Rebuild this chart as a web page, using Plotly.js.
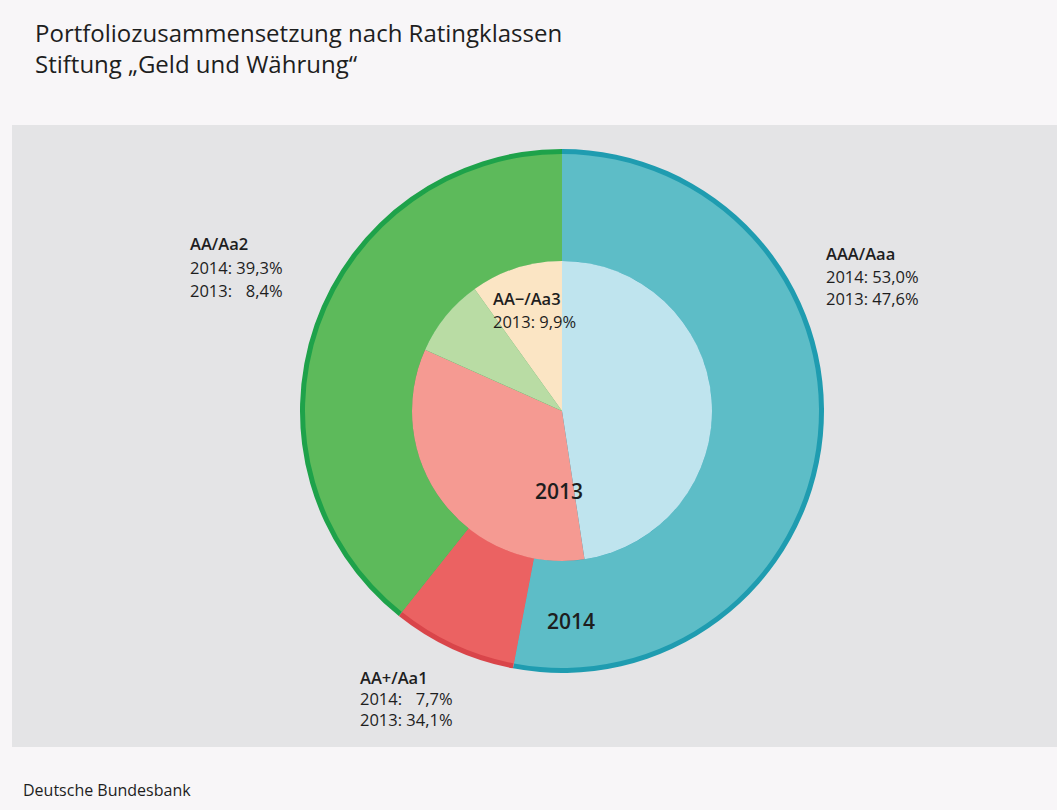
<!DOCTYPE html>
<html>
<head>
<meta charset="utf-8">
<script src="https://cdn.plot.ly/plotly-3.0.1.min.js"></script>
<style>html,body{margin:0;padding:0;background:#f8f6f8;}#chart{width:1057px;height:810px;}</style>
</head>
<body>
<div id="chart"></div>
<script>
// ---- data ----
const classes2014 = ["AAA/Aaa", "AA+/Aa1", "AA/Aa2"];
const values2014 = [53.0, 7.7, 39.3];
const classes2013 = ["AAA/Aaa", "AA+/Aa1", "AA/Aa2", "AA\u2212/Aa3"];
const values2013 = [47.6, 34.1, 8.4, 9.9];

const colors2014 = ["#5dbdc7", "#eb6262", "#5dba5b"];
const edge2014 = ["#1f9cb0", "#d9454a", "#1ea24a"];
const colors2013 = ["#bfe4ee", "#f59a92", "#b9dca4", "#fbe5c4"];

// ---- geometry (pixels) ----
const W = 1057, H = 810;
const cx = 562, cy = 411;
const rEdge = 262, rOuter = 257, rInner = 150;
function dom(r) {
  return {x: [(cx - r) / W, (cx + r) / W], y: [(H - cy - r) / H, (H - cy + r) / H]};
}

const common = {type: "pie", sort: false, direction: "clockwise", rotation: 0,
  textinfo: "none", hoverinfo: "label+percent", showlegend: false};

const traces = [
  Object.assign({}, common, {labels: classes2014, values: values2014, domain: dom(rEdge),
    marker: {colors: edge2014, line: {width: 0}}}),
  Object.assign({}, common, {labels: classes2014, values: values2014, domain: dom(rOuter),
    hole: rInner / rOuter, marker: {colors: colors2014, line: {width: 0}}}),
  Object.assign({}, common, {labels: classes2013, values: values2013, domain: dom(rInner),
    marker: {colors: colors2013, line: {width: 0}}})
];

const F = "Open Sans, Noto Sans, sans-serif";
const tc = "#1e1e1e";
function ann(x, y, text, size, weight, extra) {
  return Object.assign({xref: "paper", yref: "paper", x: x / W, y: 1 - y / H, text: text,
    showarrow: false, xanchor: "left", yanchor: "middle", align: "left",
    font: {family: F, size: size, color: tc, weight: weight || 400}}, extra || {});
}
const fs = "\u2007";
const LS = 16.5;
const annotations = [
  ann(33, 48, "Portfoliozusammensetzung nach Ratingklassen<br>Stiftung \u201eGeld und W\u00e4hrung\u201c", 24, 500),
  ann(21, 790, "Deutsche Bundesbank", 16),
  ann(188, 243, "AA/Aa2", LS, 600),
  ann(188, 267, "2014: 39,3%", LS),
  ann(188, 290, "2013: " + fs + "8,4%", LS),
  ann(824, 254, "AAA/Aaa", LS, 600),
  ann(824, 276, "2014: 53,0%", LS),
  ann(824, 298, "2013: 47,6%", LS),
  ann(358, 677, "AA+/Aa1", LS, 600),
  ann(358, 698, "2014: " + fs + "7,7%", LS),
  ann(358, 719, "2013: 34,1%", LS),
  ann(491, 298, "AA\u2212/Aa3", LS, 600),
  ann(491, 322, "2013: 9,9%", LS),
  ann(559, 491, "2013", 21, 600, {xanchor: "center"}),
  ann(571, 621, "2014", 21, 600, {xanchor: "center"})
];

const layout = {
  width: W, height: H,
  margin: {l: 0, r: 0, t: 0, b: 0},
  paper_bgcolor: "#f8f6f8",
  shapes: [{type: "rect", xref: "paper", yref: "paper", layer: "below",
    x0: 12 / W, x1: 1, y0: 1 - 747 / H, y1: 1 - 125 / H,
    fillcolor: "#e4e4e6", line: {width: 0}}],
  annotations: annotations
};

Plotly.newPlot("chart", traces, layout, {displayModeBar: false, staticPlot: true});
</script>
</body>
</html>
